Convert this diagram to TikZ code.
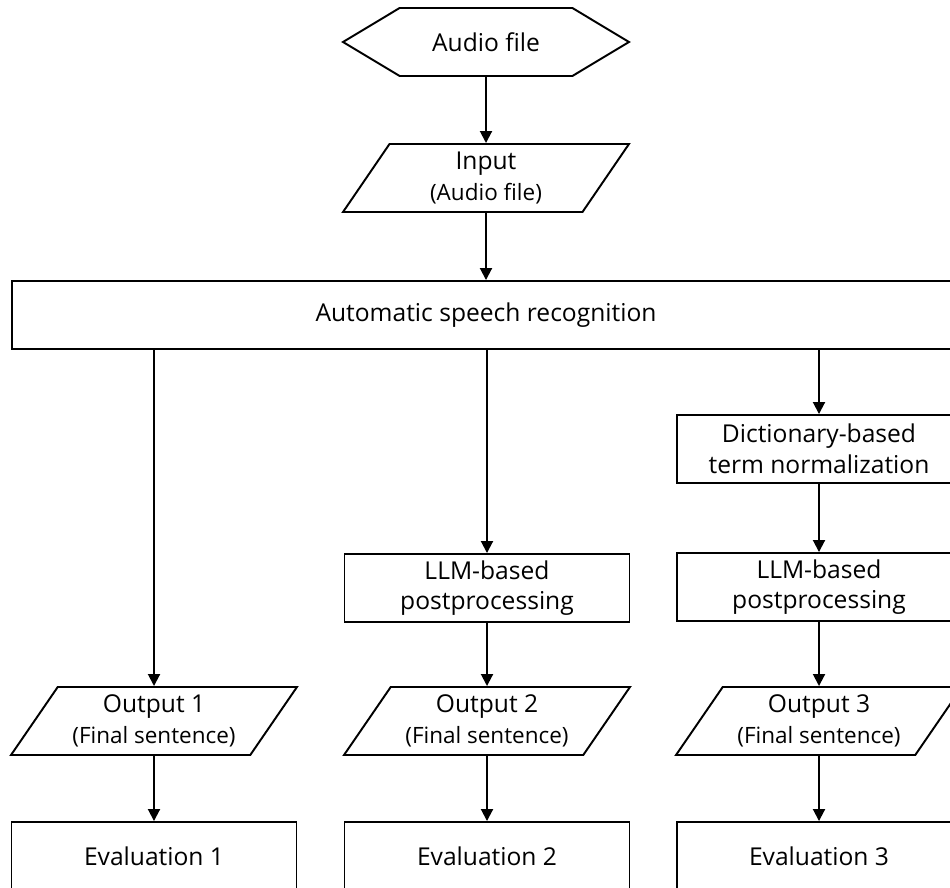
\documentclass[tikz,border=0pt]{standalone}
\usepackage{fontspec}
\setmainfont{Open Sans}
\usetikzlibrary{arrows.meta, shapes.geometric, shapes.symbols}
\tikzset{
  every picture/.style={font=\fontsize{14}{17.5}\selectfont, line width=1.1pt},
  box/.style={draw, rectangle, align=center, minimum width=5.7cm, minimum height=1.36cm, inner sep=2pt},
  io/.style={draw, trapezium, trapezium left angle=50, trapezium right angle=130, trapezium stretches body, align=center, minimum width=5.72cm, minimum height=1.36cm, inner sep=1pt},
  terminal/.style={draw, signal, signal to=west and east, signal pointer angle=62, minimum width=5.72cm, minimum height=1.36cm},
  arrow/.style={-{Triangle[length=2.4mm, width=2.4mm]}},
}
\newcommand{\subline}[1]{{\fontsize{12.8}{15.5}\selectfont #1}}

\begin{document}
\begin{tikzpicture}[x=0.02cm, y=-0.02cm]
  \clip (0,0) rectangle (950,888);
  \node[terminal] (src) at (486,42) {Audio file};
  \node[io] (inp) at (486,178) {Input\\\subline{(Audio file)}};
  \node[box, minimum width=18.96cm] (asr) at (486,315) {Automatic speech recognition};
  \draw[arrow] (src) -- (inp);
  \draw[arrow] (inp) -- (asr);
  % path 1: asr only
  \node[io] (out1) at (154,721) {Output 1\\\subline{(Final sentence)}};
  \node[box] (eval1) at (154,856) {Evaluation 1};
  \draw[arrow] (asr.south -| out1.north) -- (out1.north);
  \draw[arrow] (out1) -- (eval1);
  % path 2: asr + llm
  \node[box] (llm2) at (487,588) {LLM-based\\postprocessing};
  \node[io] (out2) at (487,721) {Output 2\\\subline{(Final sentence)}};
  \node[box] (eval2) at (487,856) {Evaluation 2};
  \draw[arrow] (asr.south -| llm2.north) -- (llm2.north);
  \draw[arrow] (llm2) -- (out2);
  \draw[arrow] (out2) -- (eval2);
  % path 3: asr + dictionary + llm
  \node[box] (dict) at (819,449) {Dictionary-based\\term normalization};
  \node[box] (llm3) at (819,587) {LLM-based\\postprocessing};
  \node[io] (out3) at (819,721) {Output 3\\\subline{(Final sentence)}};
  \node[box] (eval3) at (819,856) {Evaluation 3};
  \draw[arrow] (asr.south -| dict.north) -- (dict.north);
  \draw[arrow] (dict) -- (llm3);
  \draw[arrow] (llm3) -- (out3);
  \draw[arrow] (out3) -- (eval3);
\end{tikzpicture}
\end{document}
